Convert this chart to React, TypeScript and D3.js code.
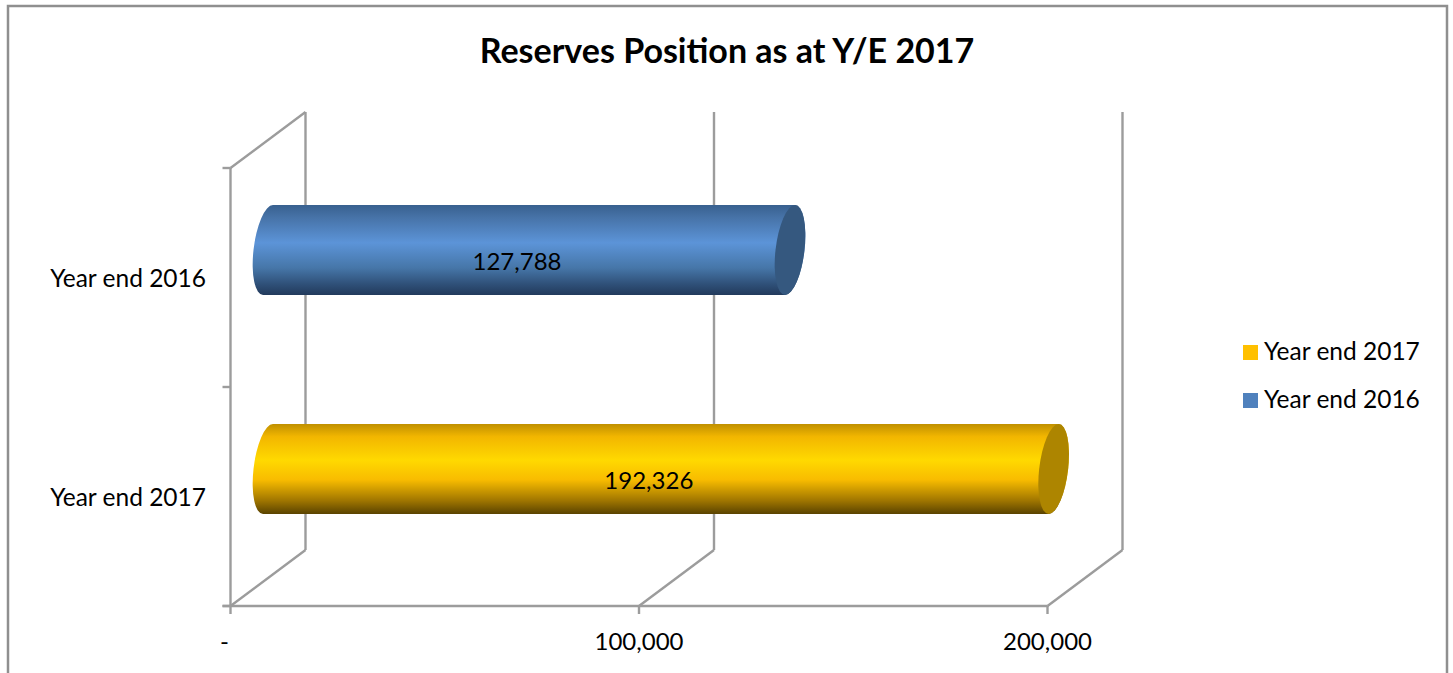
import React from "react";
import * as d3 from "d3";

const title = "Reserves Position as at Y/E 2017";
const categories = ["Year end 2017", "Year end 2016"];
const values = [192326, 127788];
const tickValues = [0, 100000, 200000];
const legendOrder = ["Year end 2017", "Year end 2016"];
const fillStops: Record<string, [number, string][]> = {
  "Year end 2017": [[0, "#c09000"], [0.14, "#f2b600"], [0.4, "#ffd900"], [0.62, "#f8bc00"], [0.85, "#a07600"], [1, "#5a4300"]],
  "Year end 2016": [[0, "#38608f"], [0.14, "#4773a8"], [0.42, "#5c94d8"], [0.7, "#4676a8"], [0.88, "#2f5078"], [1, "#223a5c"]],
};
const capColors: Record<string, string> = { "Year end 2017": "#ad8500", "Year end 2016": "#35587f" };
const swatchColors: Record<string, string> = { "Year end 2017": "#ffc000", "Year end 2016": "#4f81bd" };

const W = 1453, H = 673;
const GREY = "#9c9c9c";
const FONT = "Lato, Carlito, sans-serif";
const depthX = 75, depthY = 56;
const rx = 14.5, ry = 45, shearDeg = -6.3;

const fmt = (v: number) => (v === 0 ? "-" : d3.format(",")(v));

export default function App() {
  const x = d3.scaleLinear().domain([0, 200000]).range([230.5, 1047.5]);
  const y = d3.scaleBand<string>().domain(categories).range([606, 168]);
  const bottom = y.range()[0], top = y.range()[1];
  const ticksY = [bottom, (bottom + top) / 2, top];

  return (
    <svg width={W} height={H} viewBox={`0 0 ${W} ${H}`} style={{ position: "fixed", left: 0, top: 0, background: "#fff" }} fontFamily={FONT}>
      <defs>
        {categories.map((c, i) => (
          <linearGradient key={c} id={`g${i}`} x1="0" y1="0" x2="0" y2="1">
            {fillStops[c].map(([o, col]) => <stop key={o} offset={o} stopColor={col} />)}
          </linearGradient>
        ))}
      </defs>

      <path d={`M8,${H}V6H1447V${H}`} fill="none" stroke="#8f8f8f" strokeWidth={2.5} />

      <text x={727} y={63} textAnchor="middle" fontSize={34} fontWeight={700} fill="#000">{title}</text>

      <g stroke={GREY} strokeWidth={2.4} fill="none">
        <line x1={x(0)} x2={x(0)} y1={top} y2={bottom} />
        <line x1={x(0) - 8} x2={x(200000)} y1={bottom} y2={bottom} />
        {ticksY.map((t) => <line key={t} x1={x(0) - 8} x2={x(0)} y1={t} y2={t} />)}
        <line x1={x(0)} y1={top} x2={x(0) + depthX} y2={top - depthY} />
        {tickValues.map((v) => (
          <g key={v}>
            <line x1={x(v)} x2={x(v)} y1={bottom} y2={bottom + 8} />
            <line x1={x(v)} y1={bottom} x2={x(v) + depthX} y2={bottom - depthY} />
            <line x1={x(v) + depthX} x2={x(v) + depthX} y1={top - depthY} y2={bottom - depthY} />
          </g>
        ))}
      </g>

      {categories.map((c, i) => {
        const cy = y(c)! + y.bandwidth() / 2 - depthY / 2 + 0.5;
        const x0 = x(0) + depthX / 2;
        const x1 = x(values[i]) + depthX / 2;
        const body = `M${x0},${-ry}L${x1},${-ry}A${rx},${ry} 0 0 1 ${x1},${ry}L${x0},${ry}A${rx},${ry} 0 0 1 ${x0},${-ry}Z`;
        return (
          <g key={c}>
            <g transform={`translate(0,${cy}) skewX(${shearDeg})`}>
              <path d={body} fill={`url(#g${i})`} />
              <ellipse cx={x1} cy={0} rx={rx} ry={ry} fill={capColors[c]} />
            </g>
            <text x={(x0 + x1) / 2 - 12} y={cy + 20} textAnchor="middle" fontSize={24} fill="#000">{fmt(values[i])}</text>
            <text x={206} y={y(c)! + y.bandwidth() / 2 + 9} textAnchor="end" fontSize={24.5} fill="#000">{c}</text>
          </g>
        );
      })}

      {tickValues.map((v) => (
        <text key={v} x={v === 0 ? x(v) - 6 : x(v)} y={650} textAnchor="middle" fontSize={24} fill="#000">{fmt(v)}</text>
      ))}

      {legendOrder.map((c, i) => (
        <g key={c} transform={`translate(1243,${345 + i * 48})`}>
          <rect width={15} height={15} fill={swatchColors[c]} />
          <text x={21} y={15} fontSize={24.5} fill="#000">{c}</text>
        </g>
      ))}
    </svg>
  );
}
